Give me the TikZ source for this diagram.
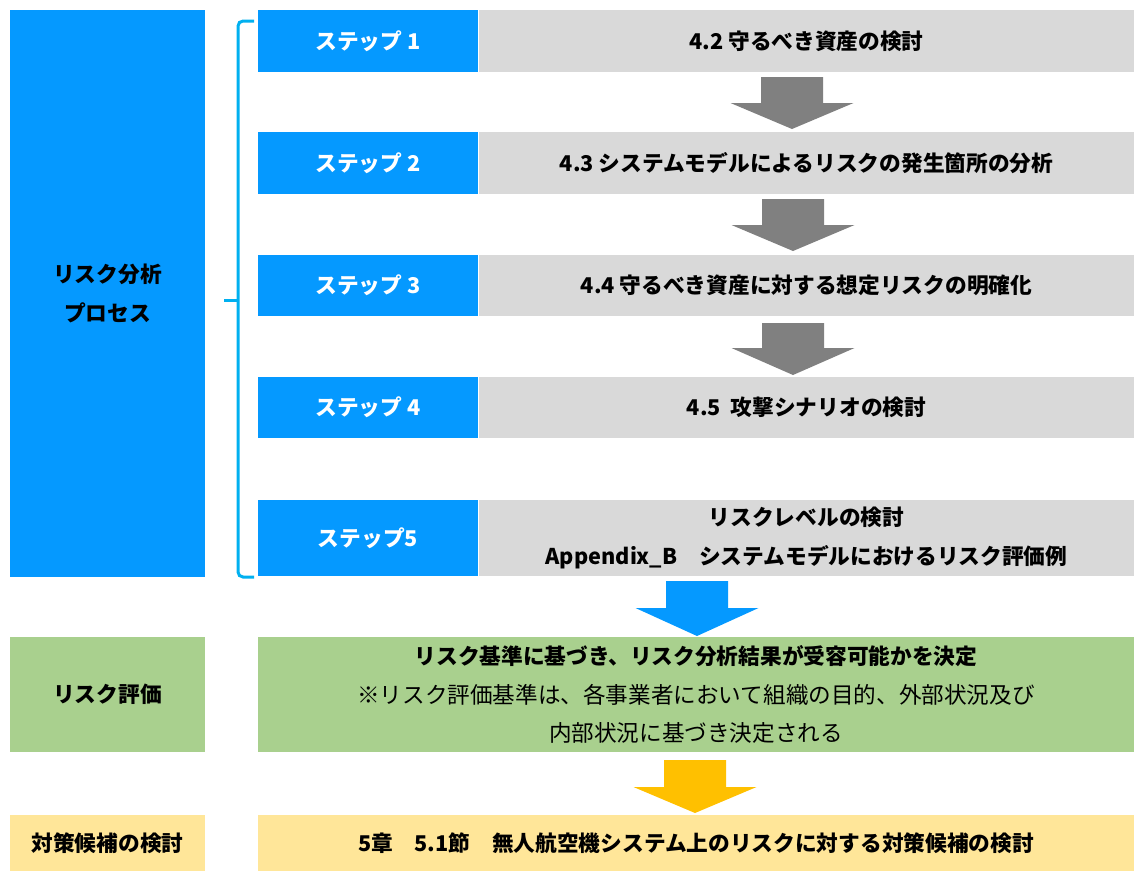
\documentclass[tikz,border=0pt]{standalone}
\usepackage{fontspec}
\setmainfont{Noto Sans CJK JP}
\definecolor{stepblue}{HTML}{0599FF}
\definecolor{stepgray}{HTML}{D9D9D9}
\definecolor{arrgray}{HTML}{808080}
\definecolor{evalgreen}{HTML}{A9D08E}
\definecolor{candyellow}{HTML}{FFE699}
\definecolor{arryellow}{HTML}{FFC000}
\definecolor{bracecol}{HTML}{00B0F0}
\newcommand\blkarrow[5]{\fill[#1] (#2-31,#3) -- (#2+31,#3) -- (#2+31,#4) -- (#2+61.5,#4) -- (#2,#5) -- (#2-61.5,#4) -- (#2-31,#4) -- cycle;}
\newcommand\regline[1]{{\fontsize{22.6}{38.5}\selectfont\mdseries #1}}
\begin{document}
\begin{tikzpicture}[x=1pt,y=-1pt,
  box/.style={rectangle,inner sep=0pt,outer sep=0pt,align=center,font=\fontsize{21.7}{38.5}\selectfont\bfseries},
  bluebox/.style={box,fill=stepblue,text=white,minimum width=220pt},
  graybox/.style={box,fill=stepgray,minimum width=655pt},
  leftbox/.style={box,minimum width=195pt},
  rightbox/.style={box,minimum width=876pt}]
\useasboundingbox (0,0) rectangle (1134,871);
\fill[white] (0,0) rectangle (1134,871);
% left blue
\node[leftbox,fill=stepblue,minimum height=567pt] (lp) at (107.5,293.5) {リスク分析\\プロセス};
% steps
\node[bluebox,minimum height=62pt] (s1) at (368,41) {ステップ 1};
\node[graybox,minimum height=62pt] (g1) at (806.5,41) {4.2 守るべき資産の検討};
\node[bluebox,minimum height=62pt] (s2) at (368,163) {ステップ 2};
\node[graybox,minimum height=62pt] (g2) at (806.5,163) {4.3 システムモデルによるリスクの発生箇所の分析};
\node[bluebox,minimum height=61pt] (s3) at (368,285.5) {ステップ 3};
\node[graybox,minimum height=61pt] (g3) at (806.5,285.5) {4.4 守るべき資産に対する想定リスクの明確化};
\node[bluebox,minimum height=61pt] (s4) at (368,407.5) {ステップ 4};
\node[graybox,minimum height=61pt] (g4) at (806.5,407.5) {4.5\ \ 攻撃シナリオの検討};
\node[bluebox,minimum height=76pt] (s5) at (368,538) {ステップ5};
\node[graybox,minimum height=76pt] (g5) at (806.5,538) {リスクレベルの検討\\Appendix\_B　システムモデルにおけるリスク評価例};
% brace
\draw[bracecol,line width=3pt,rounded corners=5pt] (254,21) -- (238,21) -- (238,577) -- (254,577);
\draw[bracecol,line width=3pt] (238,300) -- (224,300);
% gray arrows
\blkarrow{arrgray}{792}{77}{103}{129}
\blkarrow{arrgray}{793}{199}{225}{251}
\blkarrow{arrgray}{793}{323}{348}{375}
% evaluation
\blkarrow{stepblue}{697}{581}{608}{636}
\node[leftbox,fill=evalgreen,minimum height=115pt] (ev) at (107.5,694.5) {リスク評価};
\node[rightbox,fill=evalgreen,minimum height=115pt] (evr) at (696,694.5) {リスク基準に基づき、リスク分析結果が受容可能かを決定\\
  \regline{※リスク評価基準は、各事業者において組織の目的、外部状況及び}\\
  \regline{内部状況に基づき決定される}};
% candidates
\blkarrow{arryellow}{695}{760}{787}{813}
\node[leftbox,fill=candyellow,minimum height=56pt] (cd) at (107.5,843) {対策候補の検討};
\node[rightbox,fill=candyellow,minimum height=56pt] (cdr) at (696,843) {5章　5.1節　無人航空機システム上のリスクに対する対策候補の検討};
\end{tikzpicture}
\end{document}
